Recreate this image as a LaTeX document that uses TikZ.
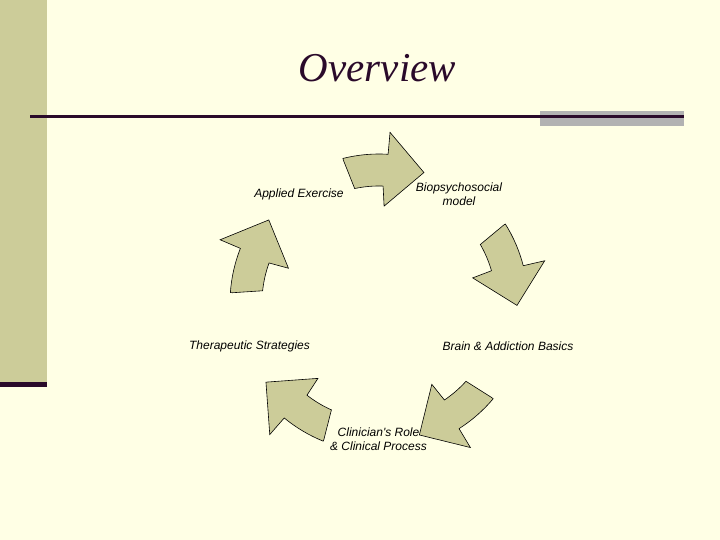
\documentclass[tikz,border=0pt]{standalone}
\usepackage{fontspec}
\setmainfont{Liberation Serif}
\newfontfamily\labelfont{Liberation Sans}
\definecolor{bg}{RGB}{255,255,229}
\definecolor{khaki}{RGB}{204,204,153}
\definecolor{darkplum}{RGB}{42,10,42}
\definecolor{greyband}{RGB}{178,178,178}
\begin{document}
\begin{tikzpicture}[x=1pt,y=1pt,
  cyclearrow/.style={fill=khaki, draw=black, line width=0.6pt, line join=miter},
  lbl/.style={font=\labelfont\itshape\fontsize{12}{14}\selectfont, align=center, inner sep=0pt, text=black}]
\fill[bg] (0,0) rectangle (720,540);
\useasboundingbox (0,0) rectangle (720,540);
% left band
\fill[khaki] (0,540) rectangle (47,158);
\fill[darkplum] (0,158) rectangle (47,153);
% title rule
\fill[greyband] (540,429) rectangle (684,413.5);
\draw[darkplum, line width=3pt] (30,423) -- (684,423);
\node[font=\fontsize{41}{48}\selectfont\itshape, text=darkplum, anchor=base, inner sep=0pt] (title) at (377.5,458) {Overview};
% labels
\node[lbl] (applied) at (299,346) {Applied Exercise};
\node[lbl] (bio) at (459,346) {Biopsychosocial\\model};
\node[lbl] (brain) at (508,194) {Brain \& Addiction Basics};
\node[lbl] (clin) at (378.5,101) {Clinician's Role\\\& Clinical Process};
\node[lbl] (thera) at (249.5,194) {Therapeutic Strategies};
% cycle arrows
\foreach \a in {72,0,-72,-144,-216}{
  \draw[cyclearrow, shift={(379,237)}]
    ({\a+32}:147pt) -- ({\a+30}:117pt)
    arc[start angle=\a+30, end angle=\a+16, radius=117pt]
    -- ({\a+15}:97pt) -- ({\a-1}:138pt) -- ({\a+14.3}:171pt) -- ({\a+14.5}:149pt)
    arc[start angle=\a+14.5, end angle=\a+32, radius=149pt] -- cycle;
}
\end{tikzpicture}
\end{document}
